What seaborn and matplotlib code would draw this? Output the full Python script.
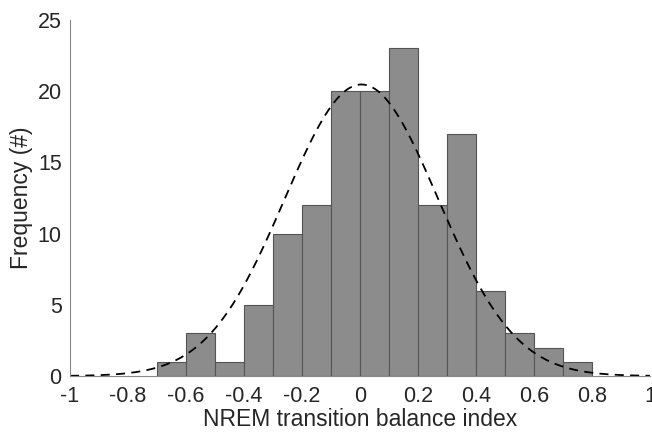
import numpy as np
import pandas as pd
import matplotlib
matplotlib.use("Agg")
import matplotlib.pyplot as plt
import seaborn as sns

# histogram counts (bin width 0.1)
bin_left = [-0.7, -0.6, -0.5, -0.4, -0.3, -0.2, -0.1, 0.0, 0.1, 0.2, 0.3, 0.4, 0.5, 0.6, 0.7]
counts = [1, 3, 1, 5, 10, 12, 20, 20, 23, 12, 17, 6, 3, 2, 1]
bin_width = 0.1

# fitted normal (dashed line)
fit_mean = 0.005
fit_sd = 0.265

x_ticks = [-1, -0.8, -0.6, -0.4, -0.2, 0, 0.2, 0.4, 0.6, 0.8, 1]
x_ticklabels = ["-1", "-0.8", "-0.6", "-0.4", "-0.2", "0", "0.2", "0.4", "0.6", "0.8", "1"]
y_ticks = [0, 5, 10, 15, 20, 25]

sns.set_style("white")
plt.rcParams['font.family'] = ['Liberation Sans', 'DejaVu Sans']

df = pd.DataFrame({"center": np.array(bin_left) + bin_width / 2, "n": counts})
edges = [round(b, 2) for b in bin_left] + [round(bin_left[-1] + bin_width, 2)]

fig = plt.figure(figsize=(6.52, 4.32), dpi=100)
ax = fig.add_axes([0.1074, 0.1296, 0.8895, 0.8241])

sns.histplot(data=df, x="center", weights="n", bins=edges, ax=ax,
             color="#8c8c8c", edgecolor="#555555", linewidth=0.8, alpha=1.0)

xs = np.linspace(-1, 1, 400)
total = sum(counts)
ys = total * bin_width / (fit_sd * np.sqrt(2 * np.pi)) * np.exp(-0.5 * ((xs - fit_mean) / fit_sd) ** 2)
sns.lineplot(x=xs, y=ys, ax=ax, color="black", linestyle=(0, (5, 3.5)), linewidth=1.3)

ax.set_xlim(-1, 1)
ax.set_ylim(0, 25)
ax.set_xticks(x_ticks)
ax.set_xticklabels(x_ticklabels)
ax.set_yticks(y_ticks)
ax.tick_params(direction="in", length=4, color="#777777", labelsize=15.5, labelcolor="#262626", pad=6)
ax.tick_params(axis="x", pad=7)
ax.set_xlabel("NREM transition balance index", fontsize=16.5, color="#262626", labelpad=1)
ax.set_ylabel("Frequency (#)", fontsize=16.5, color="#262626", labelpad=3)

for s in ["top", "right"]:
    ax.spines[s].set_visible(False)
for s in ["left", "bottom"]:
    ax.spines[s].set_color("#888888")
    ax.spines[s].set_linewidth(0.8)

fig.savefig("out.png", dpi=100)
